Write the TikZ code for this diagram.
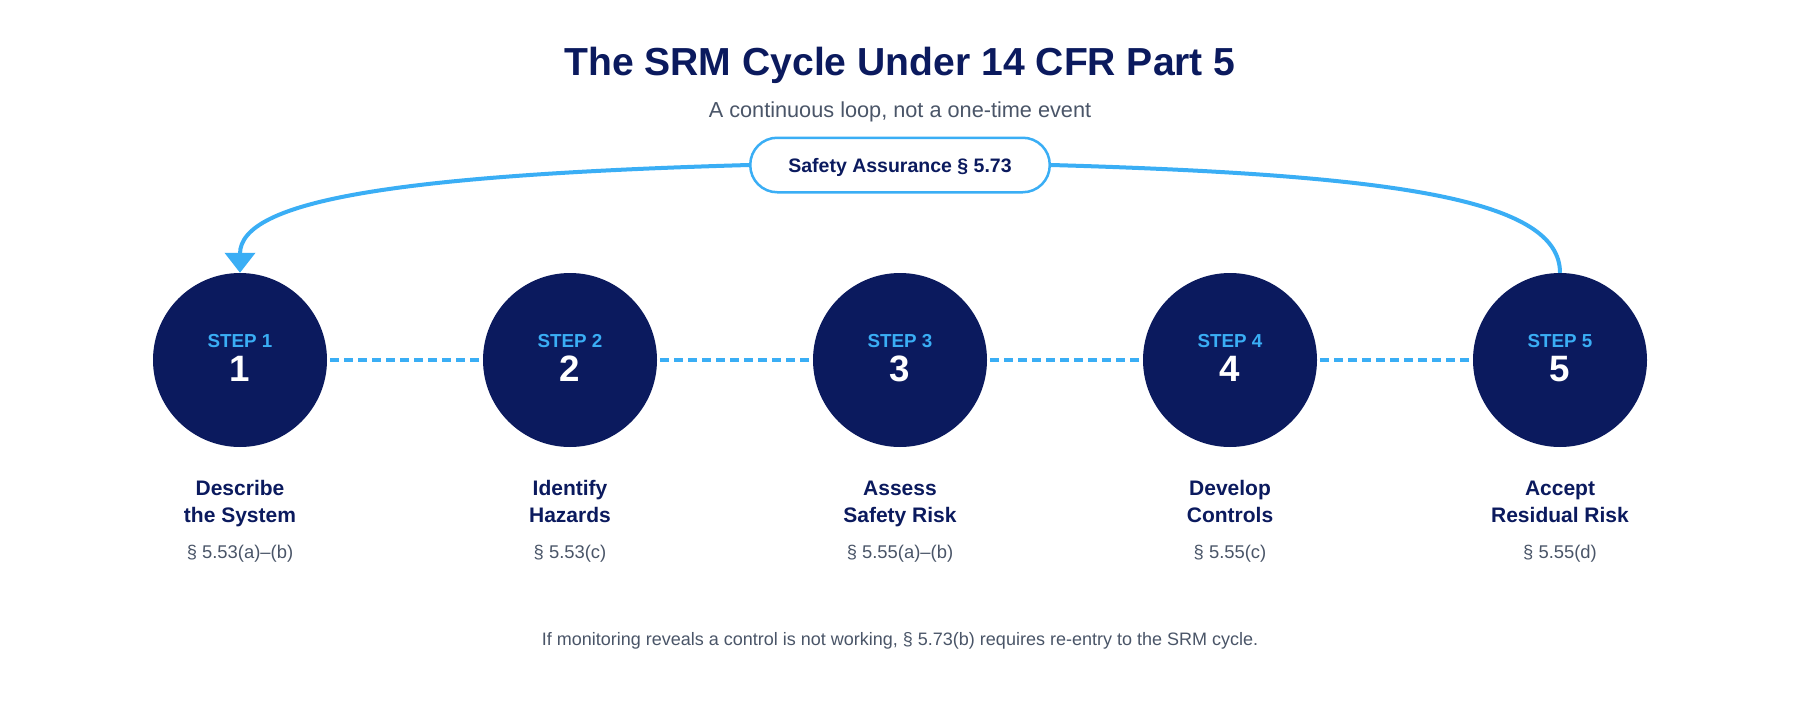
\documentclass[tikz,border=0pt]{standalone}
\usepackage{fontspec}
\setmainfont{Liberation Sans}
\usetikzlibrary{arrows.meta}
\definecolor{navy}{HTML}{0B1A5E}
\definecolor{sky}{HTML}{3AAEF5}
\definecolor{slate}{HTML}{4A5568}
\begin{document}
\begin{tikzpicture}[x=1pt,y=-1pt,
  txt/.style={inner sep=0pt, anchor=base},
  stepcircle/.style={circle, fill=navy, minimum size=174pt, inner sep=0pt},
  steptag/.style={txt, text=sky, font=\fontsize{18.8}{22}\selectfont\bfseries},
  stepnum/.style={txt, text=white, font=\fontsize{36.7}{44}\selectfont\bfseries},
  lbl/.style={txt, text=navy, font=\fontsize{21}{25}\selectfont\bfseries},
  sec/.style={txt, text=slate, font=\fontsize{18.4}{22}\selectfont},
  link/.style={draw=sky, line width=4.5pt, dash pattern=on 9pt off 5pt, shorten <=3pt},
  loopline/.style={draw=sky, line width=4pt},
  sabox/.style={draw=sky, line width=2.5pt, fill=white, rounded corners=27pt,
    minimum width=299.5pt, minimum height=54.5pt, inner sep=0pt,
    text height=14.6pt, text depth=0pt,
    text=navy, font=\fontsize{19.5}{23}\selectfont\bfseries},
]
\fill[white] (0,0) rectangle (1800,720);
\useasboundingbox (0,0) rectangle (1800,720);

\node[txt, text=navy, font=\fontsize{39.1}{47}\selectfont\bfseries] (title) at (900,75) {The SRM Cycle Under 14 CFR Part 5};
\node[txt, text=slate, font=\fontsize{21.7}{26}\selectfont] (subtitle) at (900,117) {A continuous loop, not a one-time event};

\foreach \i/\x/\la/\lb/\s in {1/240/Describe/the System/§ 5.53(a)–(b),
                              2/570/Identify/Hazards/§ 5.53(c),
                              3/900/Assess/Safety Risk/§ 5.55(a)–(b),
                              4/1230/Develop/Controls/§ 5.55(c),
                              5/1560/Accept/Residual Risk/§ 5.55(d)}{
  \node[stepcircle] (c\i) at (\x,360) {};
  \node[steptag] (t\i) at (\x,347.6) {STEP \i};
  \node[stepnum] (n\i) at (\x,381) {\i};
  \node[lbl] (la\i) at (\x,495.5) {\la};
  \node[lbl] (lb\i) at (\x,522) {\lb};
  \node[sec] (s\i) at (\x,558) {\s};
}

\draw[link] (c1.east) -- (c2.west);
\draw[link] (c2.east) -- (c3.west);
\draw[link] (c3.east) -- (c4.west);
\draw[link] (c4.east) -- (c5.west);

\node[sabox] (sa) at (900,165) {Safety Assurance § 5.73};

\draw[loopline, -{Triangle[width=30pt,length=20pt]}] (sa.west) .. controls (400,175) and (240,200) .. (c1.north);
\draw[loopline] (sa.east) .. controls (1400,175) and (1560,200) .. (c5.north);

\node[txt, text=slate, font=\fontsize{18}{21}\selectfont] (foot) at (900,645) {If monitoring reveals a control is not working, § 5.73(b) requires re-entry to the SRM cycle.};
\end{tikzpicture}
\end{document}
